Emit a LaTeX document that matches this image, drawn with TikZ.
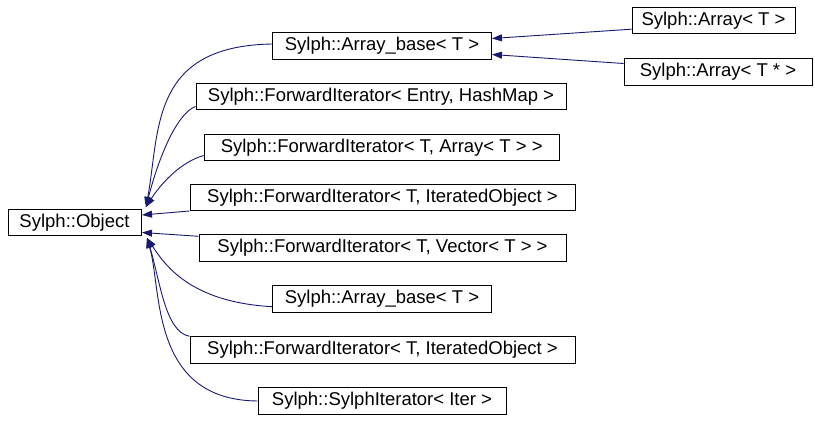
\documentclass[tikz,border=0pt]{standalone}
\usepackage{fontspec}
\setmainfont{Liberation Sans}
\usetikzlibrary{arrows.meta}
\definecolor{edgeblue}{HTML}{191970}

\tikzset{
  cls/.style={draw, line width=0.9pt, fill=white, inner xsep=4pt, inner ysep=0pt,
    minimum height=26.5pt, font=\fontsize{18.5}{22}\selectfont},
  inh/.style={draw=edgeblue, line width=0.9pt, -{Triangle[length=10pt,width=7pt]}, edgeblue}
}

\begin{document}
\begin{tikzpicture}[x=1pt, y=-1pt]
  \useasboundingbox (0,0) rectangle (815,422);

  \node[cls, minimum width=133pt] (obj) at (74.5,222.5) {Sylph::Object};

  \node[cls, minimum width=219pt] (abase) at (382,46) {Sylph::Array\_base< T >};
  \node[cls, minimum width=163pt] (arrT) at (713.5,20.5) {Sylph::Array< T >};
  \node[cls, minimum width=188pt] (arrTp) at (718,72) {Sylph::Array< T * >};
  \node[cls, minimum width=370pt] (fiEntry) at (381,96.7) {Sylph::ForwardIterator< Entry, HashMap >};
  \node[cls, minimum width=355pt] (fiArr) at (381.7,147.3) {Sylph::ForwardIterator< T, Array< T > >};
  \node[cls, minimum width=385pt] (fiIter) at (382.5,197.3) {Sylph::ForwardIterator< T, IteratedObject >};
  \node[cls, minimum width=367pt] (fiVec) at (382.5,248) {Sylph::ForwardIterator< T, Vector< T > >};
  \node[cls, minimum width=219pt] (abase2) at (382,299) {Sylph::Array\_base< T >};
  \node[cls, minimum width=385pt] (fiIter2) at (382.5,350) {Sylph::ForwardIterator< T, IteratedObject >};
  \node[cls, minimum width=248pt] (sylIter) at (382,401) {Sylph::SylphIterator< Iter >};

  % entry points on Sylph::Object
  \coordinate (objTop) at (146,207);
  \coordinate (objBot) at (147,238);

  % Array_base children
  \draw[inh] ([yshift=5pt]arrT.south west) -- ([yshift=7.5pt]abase.east);
  \draw[inh] ([yshift=8.5pt]arrTp.west) -- ([yshift=-8.5pt]abase.east);

  % Object children
  \draw[inh] ([yshift=2pt]abase.west) .. controls (150,46) and (160,130) .. (objTop);
  \draw[inh] ([yshift=4pt]fiEntry.south west) .. controls (176,114) and (158,160) .. (objTop);
  \draw[inh] ([yshift=5.5pt]fiArr.south west) .. controls (180,162) and (160,185) .. (objTop);
  \draw[inh] (fiIter.south west) -- (142,215);
  \draw[inh] ([yshift=-2pt]fiVec.north west) -- (142,232.5);
  \draw[inh] ([yshift=6pt]abase2.south west) .. controls (190,302) and (165,265) .. (objBot);
  \draw[inh] (fiIter2.north west) .. controls (165,332) and (160,280) .. (objBot);
  \draw[inh] (sylIter.west) .. controls (150,400) and (162,290) .. (objBot);
\end{tikzpicture}
\end{document}
